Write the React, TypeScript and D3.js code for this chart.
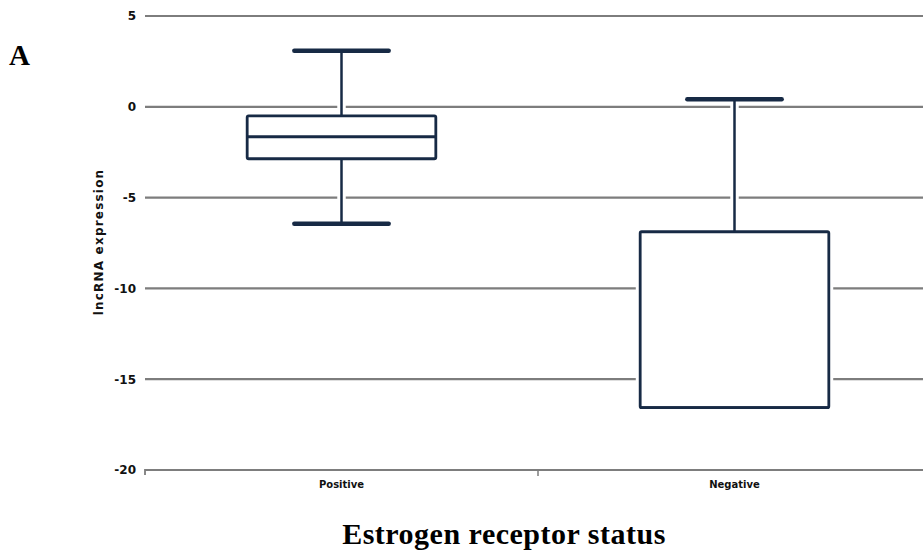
import React from "react";
import * as d3 from "d3";

const categories = ["Positive", "Negative"];
const whiskerHigh = [3.08, 0.42];
const q3Values = [-0.5, -6.88];
const medianValues = [-1.65, -16.57];
const q1Values = [-2.86, -16.57];
const whiskerLow = [-6.44, -16.57];
const yTicks = [5, 0, -5, -10, -15, -20];

const W = 923;
const H = 553;
const NAVY = "#172a45";
const GRID = "#7d7d7d";

export default function App() {
  const y = d3.scaleLinear().domain([-20, 5]).range([470, 16]);
  const x = d3.scaleBand().domain(categories).range([145, 931]).paddingInner(0).paddingOuter(0);
  const bw = x.bandwidth();
  const boxW = bw * 0.48;
  const capW = bw * 0.24;

  return (
    <svg width={W} height={H} style={{ position: "absolute", left: 0, top: 0, background: "#fff" }}>
      {/* grid lines */}
      {yTicks.filter((t) => t !== -20).map((t) => (
        <line key={"g" + t} x1={145} x2={W} y1={y(t)} y2={y(t)} stroke={GRID} strokeWidth={2.2} />
      ))}
      {/* bottom axis */}
      <path d={`M145,${y(-20) + 5}L145,${y(-20)}L${W},${y(-20)}`} fill="none" stroke={GRID} strokeWidth={1.8} />
      <line x1={(x("Negative") as number)} x2={(x("Negative") as number)} y1={y(-20)} y2={y(-20) + 6} stroke={GRID} strokeWidth={1.5} />
      {/* y tick labels */}
      {yTicks.map((t) => (
        <text key={"t" + t} x={136} y={y(t)} dy="0.36em" textAnchor="end" fontFamily="DejaVu Sans" fontWeight="bold" fontSize={12} fill="#111">
          {t}
        </text>
      ))}
      {/* category labels */}
      {categories.map((c) => (
        <text key={"c" + c} x={(x(c) as number) + bw / 2} y={488} textAnchor="middle" fontFamily="DejaVu Sans" fontWeight="bold" fontSize={10} fill="#111">
          {c}
        </text>
      ))}
      {/* y axis title */}
      <text transform={`translate(103,${242}) rotate(-90)`} textAnchor="middle" fontFamily="DejaVu Sans" fontWeight="bold" fontSize={12} letterSpacing={1.2} fill="#111">
        lncRNA expression
      </text>
      {/* boxes */}
      {categories.map((c, i) => {
        const cx = (x(c) as number) + bw / 2;
        const x0 = cx - boxW / 2;
        const hi = y(whiskerHigh[i]);
        const lo = y(whiskerLow[i]);
        const t3 = y(q3Values[i]);
        const t1 = y(q1Values[i]);
        const md = y(medianValues[i]);
        const shapes = (stroke: string, extra: number) => (
          <g>
            {hi < t3 && <line x1={cx} x2={cx} y1={hi} y2={t3} stroke={stroke} strokeWidth={2.5 + extra} />}
            {lo > t1 && <line x1={cx} x2={cx} y1={t1} y2={lo} stroke={stroke} strokeWidth={2.5 + extra} />}
            <line x1={cx - capW / 2} x2={cx + capW / 2} y1={hi} y2={hi} stroke={stroke} strokeWidth={4.5 + extra} strokeLinecap="round" />
            {lo > t1 && <line x1={cx - capW / 2} x2={cx + capW / 2} y1={lo} y2={lo} stroke={stroke} strokeWidth={4.5 + extra} strokeLinecap="round" />}
            <rect x={x0} y={t3} width={boxW} height={t1 - t3} fill={extra > 0 ? "none" : "#fff"} stroke={stroke} strokeWidth={2.8 + extra} rx={1.5} />
            <line x1={x0} x2={x0 + boxW} y1={md} y2={md} stroke={stroke} strokeWidth={2.8 + extra} />
          </g>
        );
        return (
          <g key={"b" + c}>
            {shapes("#fff", 6)}
            {shapes(NAVY, 0)}
          </g>
        );
      })}
      {/* panel letter */}
      <text x={9} y={65} fontFamily="Liberation Serif" fontWeight="bold" fontSize={29} fill="#000">
        A
      </text>
      {/* x axis title */}
      <text x={504} y={544} textAnchor="middle" fontFamily="Liberation Serif" fontWeight="bold" fontSize={30} letterSpacing={0.5} fill="#000">
        Estrogen receptor status
      </text>
    </svg>
  );
}
